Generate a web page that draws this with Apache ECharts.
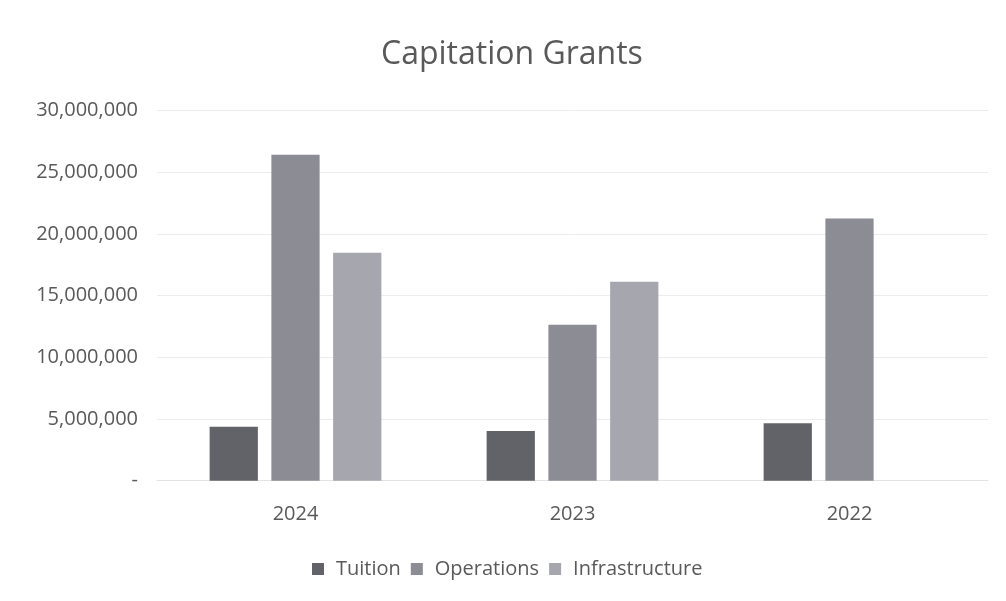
<!DOCTYPE html>
<html>
<head>
<meta charset="utf-8">
<script src="https://cdn.jsdelivr.net/npm/echarts@6/dist/echarts.min.js"></script>
<style>
  html, body { margin: 0; padding: 0; background: #ffffff; }
  #chart { width: 1006px; height: 601px; }
</style>
</head>
<body>
<div id="chart"></div>
<script>
// Capitation grants by year and component
const years = ['2024', '2023', '2022'];
const seriesNames = ['Tuition', 'Operations', 'Infrastructure'];
const tuition = [4380000, 4030000, 4650000];
const operations = [26420000, 12640000, 21260000];
const infrastructure = [18480000, 16130000, 0];
const yTicks = [0, 5000000, 10000000, 15000000, 20000000, 25000000, 30000000];

const colors = ['#626269', '#8c8c94', '#a6a6ae'];
const fontFamily = '"Open Sans", "Liberation Sans", sans-serif';
const textColor = '#595959';

const chart = echarts.init(document.getElementById('chart'), null, { renderer: 'canvas' });

function yLabel(v) {
  if (v === 0) return '-';
  return v.toLocaleString('en-US');
}

chart.setOption({
  backgroundColor: '#ffffff',
  animation: false,
  title: {
    text: 'Capitation Grants',
    left: 376,
    top: 34,
    textStyle: { fontFamily, fontSize: 32, fontWeight: 'normal', color: textColor }
  },
  legend: {
    data: seriesNames,
    top: 554,
    left: 307,
    icon: 'rect',
    itemWidth: 12,
    itemHeight: 12,
    itemGap: 10,
    textStyle: { fontFamily, fontSize: 20, color: textColor, padding: [0, 0, 0, 7] }
  },
  grid: { left: 157, right: 18, top: 110.7, bottom: 120.3, containLabel: false },
  xAxis: {
    type: 'category',
    data: years,
    axisLine: { show: true, lineStyle: { color: '#e3e3e3', width: 1 } },
    axisTick: { show: false },
    axisLabel: { fontFamily, fontSize: 20, color: textColor, margin: 24 }
  },
  yAxis: {
    type: 'value',
    min: yTicks[0],
    max: yTicks[yTicks.length - 1],
    interval: yTicks[1] - yTicks[0],
    axisLine: { show: false },
    axisTick: { show: false },
    splitLine: { lineStyle: { color: '#ececec', width: 1 } },
    axisLabel: { fontFamily, fontSize: 20, color: textColor, margin: 19, formatter: yLabel }
  },
  series: [
    { name: seriesNames[0], type: 'bar', data: tuition, itemStyle: { color: colors[0] }, barGap: '28%', barCategoryGap: '38%' },
    { name: seriesNames[1], type: 'bar', data: operations, itemStyle: { color: colors[1] } },
    { name: seriesNames[2], type: 'bar', data: infrastructure, itemStyle: { color: colors[2] } }
  ]
});
</script>
</body>
</html>
